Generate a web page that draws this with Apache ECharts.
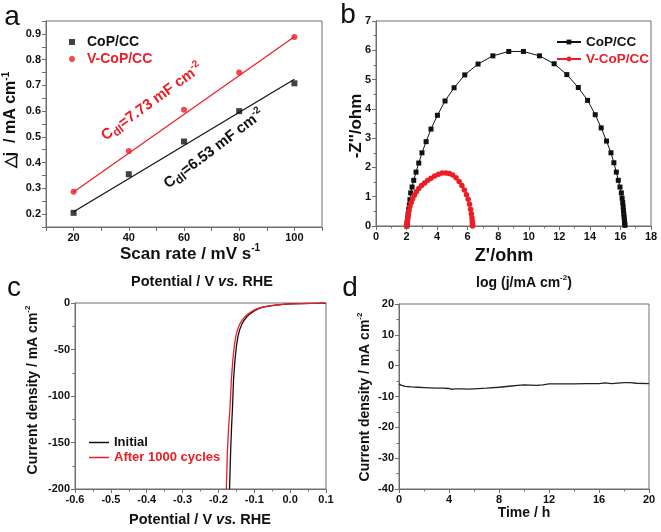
<!DOCTYPE html>
<html><head><meta charset="utf-8">
<script src="https://cdn.jsdelivr.net/npm/echarts@6/dist/echarts.min.js"></script>
<style>html,body{margin:0;padding:0;background:#fff}#c{width:661px;height:532px}</style>
</head><body><div id="c"></div>
<script>
// ---- Panel a: double-layer capacitance ----
const scanRate = [20, 40, 60, 80, 100];
const djCoP = [0.205, 0.355, 0.482, 0.600, 0.708];
const djVCoP = [0.287, 0.445, 0.605, 0.750, 0.888];
const fitRate = [20, 100];
const fitCoP = [0.209, 0.724];
const fitVCoP = [0.286, 0.889];

// ---- Panel b: Nyquist plots ----
const zReCoP = [2.02,2.04,2.07,2.10,2.14,2.18,2.22,2.27,2.36,2.47,2.62,2.80,3.01,3.28,3.60,4.02,4.52,5.11,5.81,6.68,7.65,8.69,9.65,10.70,11.66,12.49,13.24,13.85,14.35,14.74,15.09,15.38,15.57,15.73,15.86,15.97,16.06,16.11,16.15,16.18,16.20,16.22,16.24,16.26,16.27,16.28,16.29];
const zImCoP = [0,0.12,0.26,0.40,0.56,0.72,0.90,1.13,1.33,1.56,1.84,2.15,2.50,2.88,3.31,3.78,4.27,4.72,5.16,5.53,5.81,5.96,5.96,5.81,5.54,5.17,4.73,4.29,3.80,3.35,2.90,2.50,2.16,1.84,1.56,1.33,1.13,0.95,0.80,0.65,0.52,0.40,0.30,0.20,0.12,0.06,0.02];
const zReVCoP = [2.00,2.02,2.04,2.06,2.09,2.12,2.16,2.22,2.31,2.40,2.51,2.64,2.80,2.98,3.18,3.38,3.60,3.84,4.09,4.33,4.58,4.80,5.02,5.24,5.44,5.62,5.78,5.92,6.03,6.12,6.19,6.24,6.28,6.30,6.31,6.32,6.32];
const zImVCoP = [0,0.06,0.12,0.20,0.30,0.41,0.52,0.67,0.80,0.93,1.05,1.17,1.28,1.38,1.47,1.55,1.63,1.71,1.77,1.81,1.81,1.79,1.74,1.65,1.52,1.38,1.23,1.07,0.91,0.74,0.57,0.42,0.28,0.17,0.09,0.04,0];

// ---- Panel c: polarization curves ----
const potInitial = [-0.169,-0.166,-0.163,-0.161,-0.158,-0.154,-0.150,-0.146,-0.141,-0.135,-0.128,-0.120,-0.111,-0.100,-0.088,-0.075,-0.060,-0.040,-0.019,0.000,0.030,0.060,0.100];
const jInitial   = [-200,-160,-130,-115,-83,-62,-47,-37,-29,-23,-18.5,-14.5,-11.4,-8.5,-6,-4.5,-3.3,-2.2,-1.5,-1,-0.6,-0.3,-0.1];
const potCycled  = [-0.178,-0.175,-0.171,-0.168,-0.164,-0.160,-0.156,-0.152,-0.147,-0.141,-0.134,-0.125,-0.116,-0.104,-0.092,-0.078,-0.063,-0.042,-0.020,0.000,0.030,0.060,0.100];
const jCycled    = [-200,-160,-130,-115,-83,-62,-47,-37,-29,-23,-18.5,-14.5,-11.4,-8.5,-6,-4.5,-3.3,-2.2,-1.5,-1,-0.6,-0.3,-0.1];

// ---- Panel d: chronoamperometry ----
const timeH = [0,0.2,0.5,1,1.5,2,3,3.5,4,4.2,4.5,5,5.5,6,7,8,9,9.5,10,10.5,11,11.5,12,13,14,15,16,16.5,17,18,18.5,19,20];
const jStab = [-5.9,-6.4,-6.7,-6.9,-7.0,-7.1,-7.3,-7.3,-7.4,-7.7,-7.5,-7.5,-7.6,-7.5,-7.3,-7.0,-6.6,-6.4,-6.2,-6.3,-6.4,-6.2,-5.9,-5.9,-5.9,-5.8,-5.8,-5.6,-5.8,-5.5,-5.5,-5.7,-5.8];

const F = 'Liberation Sans, Arial, Helvetica, sans-serif';
const RED = '#ee1c24';
const AX = '#6e6e6e';
const zip = (a, b) => a.map((v, i) => [v, b[i]]);

function axis(gi, min, max, interval, fmt, minor) {
  return {
    type: 'value', gridIndex: gi, min: min, max: max, interval: interval,
    axisLine: { show: true, onZero: false, lineStyle: { color: AX, width: 1 } },
    axisTick: { show: true, inside: false, length: 4, lineStyle: { color: AX } },
    minorTick: { show: !!minor, splitNumber: 2, length: 2.5, lineStyle: { color: AX } },
    splitLine: { show: false },
    axisLabel: { color: '#111', fontFamily: F, fontWeight: 'bold', fontSize: 11, margin: 5, formatter: fmt }
  };
}
const richBase = (fs) => ({
  n: { fontFamily: F, fontWeight: 'bold', fontSize: fs, color: '#111', lineHeight: fs + 4 },
  i: { fontFamily: F, fontWeight: 'bold', fontStyle: 'italic', fontSize: fs, color: '#111', lineHeight: fs + 4 },
  s: { fontFamily: F, fontWeight: 'bold', fontSize: Math.round(fs * 0.6), color: '#111', verticalAlign: 'top', lineHeight: fs + 4 }
});
function label(x, y, text, fs, rot) {
  return { type: 'text', x: x, y: y, rotation: rot || 0, z: 10,
    style: { text: text, rich: richBase(fs), fill: '#111', align: 'center', verticalAlign: 'middle', textAlign: 'center', textVerticalAlign: 'middle' } };
}
function letter(x, y, t) {
  return { type: 'text', x: x, y: y, z: 10,
    style: { text: t, fill: '#111', fontFamily: F, fontSize: 28, align: 'center', verticalAlign: 'middle', textAlign: 'center', textVerticalAlign: 'middle' } };
}
function cdl(x, y, text, color, deg) {
  return { type: 'text', x: x, y: y, rotation: deg * Math.PI / 180, z: 10,
    style: { text: text, fill: color, align: 'center', verticalAlign: 'middle', textAlign: 'center', textVerticalAlign: 'middle',
      rich: {
        n: { fontFamily: F, fontWeight: 'bold', fontSize: 15, color: color, lineHeight: 20 },
        d: { fontFamily: F, fontWeight: 'bold', fontSize: 12, color: color, verticalAlign: 'bottom', lineHeight: 20 },
        s: { fontFamily: F, fontWeight: 'bold', fontSize: 10, color: color, verticalAlign: 'top', lineHeight: 20 }
      } } };
}
const SQUARE = 'path://M0,0L10,0L10,10L0,10Z';

const chart = echarts.init(document.getElementById('c'), null, { renderer: 'canvas' });
chart.setOption({
  animation: false,
  backgroundColor: '#fff',
  grid: [
    { left: 46, top: 21, width: 276, height: 206, show: true, borderColor: AX, borderWidth: 1 },
    { left: 376, top: 21, width: 275, height: 205, show: true, borderColor: AX, borderWidth: 1 },
    { left: 75, top: 303, width: 251, height: 186, show: true, borderColor: AX, borderWidth: 1 },
    { left: 399, top: 304, width: 250, height: 185, show: true, borderColor: AX, borderWidth: 1 }
  ],
  xAxis: [
    axis(0, 10, 110, 10, v => (Math.round(v) % 20 === 0 ? String(Math.round(v)) : ''), false),
    axis(1, 0, 18, 2, v => String(v), true),
    axis(2, -0.6, 0.1, 0.1, v => (Math.abs(v) < 1e-9 ? '0.0' : v.toFixed(1)), true),
    axis(3, 0, 20, 4, v => String(v), true)
  ],
  yAxis: [
    axis(0, 0.15, 0.95, 0.05, v => (Math.round(v * 100) % 10 === 0 ? v.toFixed(1) : ''), false),
    axis(1, 0, 7, 1, v => String(v), true),
    axis(2, -200, 0, 50, v => String(v), true),
    axis(3, -40, 20, 10, v => String(v), true)
  ],
  legend: [
    { left: 64, top: 30, orient: 'vertical', itemWidth: 20, itemHeight: 6, itemGap: 3, symbolKeepAspect: true,
      textStyle: { fontFamily: F, fontWeight: 'bold', fontSize: 14 },
      data: [{ name: 'CoP/CC', icon: SQUARE, textStyle: { color: '#111' } }, { name: 'V-CoP/CC', icon: 'circle', textStyle: { color: RED } }] },
    { left: 551, top: 30, orient: 'vertical', itemWidth: 24, itemHeight: 6, itemGap: 3,
      formatter: n => n.replace(' (EIS)', ''),
      textStyle: { fontFamily: F, fontWeight: 'bold', fontSize: 13.5 },
      data: [{ name: 'CoP/CC (EIS)', textStyle: { color: '#111' } }, { name: 'V-CoP/CC (EIS)', textStyle: { color: RED } }] },
    { left: 84, top: 431, orient: 'vertical', itemWidth: 20, itemHeight: 1.5, itemGap: 2,
      textStyle: { fontFamily: F, fontWeight: 'bold', fontSize: 13 },
      data: [{ name: 'Initial', icon: 'rect', textStyle: { color: '#111' } }, { name: 'After 1000 cycles', icon: 'rect', textStyle: { color: RED } }] }
  ],
  series: [
    { name: 'CoP fit', type: 'line', xAxisIndex: 0, yAxisIndex: 0, data: zip(fitRate, fitCoP), symbol: 'none', lineStyle: { color: '#111', width: 1.2 } },
    { name: 'V-CoP fit', type: 'line', xAxisIndex: 0, yAxisIndex: 0, data: zip(fitRate, fitVCoP), symbol: 'none', lineStyle: { color: RED, width: 1.2 } },
    { name: 'CoP/CC', type: 'scatter', xAxisIndex: 0, yAxisIndex: 0, data: zip(scanRate, djCoP), symbol: 'rect', symbolSize: 6, itemStyle: { color: '#111' } },
    { name: 'V-CoP/CC', type: 'scatter', xAxisIndex: 0, yAxisIndex: 0, data: zip(scanRate, djVCoP), symbol: 'circle', symbolSize: 6, itemStyle: { color: RED } },
    { name: 'CoP/CC (EIS)', type: 'line', xAxisIndex: 1, yAxisIndex: 1, data: zip(zReCoP, zImCoP), symbol: 'rect', symbolSize: 5, showSymbol: true,
      lineStyle: { color: '#111', width: 1 }, itemStyle: { color: '#111' } },
    { name: 'V-CoP/CC (EIS)', type: 'line', xAxisIndex: 1, yAxisIndex: 1, data: zip(zReVCoP, zImVCoP), symbol: 'circle', symbolSize: 5.5, showSymbol: true,
      lineStyle: { color: RED, width: 1 }, itemStyle: { color: RED } },
    { name: 'Initial', type: 'line', xAxisIndex: 2, yAxisIndex: 2, data: zip(potInitial, jInitial), symbol: 'none', lineStyle: { color: '#111', width: 1.3 }, itemStyle: { color: '#111' } },
    { name: 'After 1000 cycles', type: 'line', xAxisIndex: 2, yAxisIndex: 2, data: zip(potCycled, jCycled), symbol: 'none', lineStyle: { color: RED, width: 1.3 }, itemStyle: { color: RED } },
    { name: 'Stability', type: 'line', xAxisIndex: 3, yAxisIndex: 3, data: zip(timeH, jStab), symbol: 'none', lineStyle: { color: '#222', width: 1.3 } }
  ],
  graphic: [
    letter(12, 17, 'a'), letter(348, 15, 'b'), letter(14, 288, 'c'), letter(350, 288, 'd'),
    label(190, 254, '{n|Scan rate / mV s}{s|-1}', 17),
    label(11, 120, '{n|△j  / mA cm}{s|-1}', 16, Math.PI / 2),
    label(504, 256, "{n|Z'/ohm}", 18),
    label(356, 126, "{n|-Z''/ohm}", 17, Math.PI / 2),
    label(202, 282, '{n|Potential / V }{i|vs.}{n| RHE}', 14.5),
    label(200, 520, '{n|Potential / V }{i|vs.}{n| RHE}', 14.5),
    label(33, 390, '{n|Current density / mA cm}{s|-2}', 14, Math.PI / 2),
    label(524, 283, '{n|log (j/mA cm}{s|-2}{n|)}', 14),
    label(524, 513, '{n|Time / h}', 14),
    label(365, 397, '{n|Current density / mA cm}{s|-2}', 14, Math.PI / 2),
    cdl(152, 102, '{n|C}{d|dl}{n|=7.73 mF cm}{s|-2}', RED, 36),
    cdl(214, 149, '{n|C}{d|dl}{n|=6.53 mF cm}{s|-2}', '#111', 37)
  ]
});
</script></body></html>
